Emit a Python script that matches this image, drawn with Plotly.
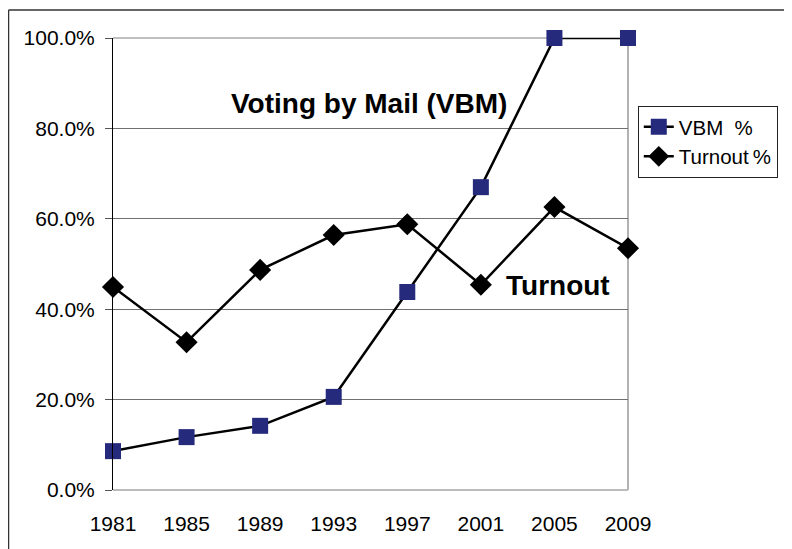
import plotly.graph_objects as go

years = [1981, 1985, 1989, 1993, 1997, 2001, 2005, 2009]
vbm_pct = [0.086, 0.117, 0.142, 0.206, 0.438, 0.670, 1.000, 1.000]
turnout_pct = [0.449, 0.327, 0.487, 0.564, 0.588, 0.454, 0.626, 0.535]
y_ticks = [0.0, 0.2, 0.4, 0.6, 0.8, 1.0]

FONT = "Liberation Sans, Arial, sans-serif"

fig = go.Figure()
fig.add_trace(go.Scatter(
    x=years, y=vbm_pct, name="VBM\u00a0 %", mode="lines+markers",
    line=dict(color="black", width=2.5),
    marker=dict(symbol="square", size=16, color="#262a7c"),
    cliponaxis=False,
))
fig.add_trace(go.Scatter(
    x=years, y=turnout_pct, name="Turnout\u2009%", mode="lines+markers",
    line=dict(color="black", width=2.5),
    marker=dict(symbol="diamond", size=17, color="black"),
    cliponaxis=False,
))

fig.update_layout(
    width=784, height=541,
    margin=dict(l=105, r=164, t=30, b=59, autoexpand=False),
    paper_bgcolor="white", plot_bgcolor="white",
    font=dict(family=FONT, color="black", size=20),
    showlegend=True,
    legend=dict(
        x=1.019, y=0.85, xanchor="left", yanchor="top",
        bordercolor="#222", borderwidth=1, bgcolor="white",
        font=dict(size=20.5, family=FONT), tracegroupgap=0,
        itemwidth=30,
    ),
    xaxis=dict(
        range=[1981, 2009], tickvals=years, ticktext=[str(y) for y in years],
        showgrid=False, zeroline=False, showline=False, ticks="",
        ticklabelstandoff=19, tickfont=dict(size=21),
    ),
    yaxis=dict(
        range=[0, 1], tickvals=y_ticks, tickformat=".1%",
        showgrid=True, gridcolor="#707070", gridwidth=1,
        zeroline=False, showline=True, linecolor="black", linewidth=1,
        ticks="outside", ticklen=7, tickcolor="#555",
        ticklabelstandoff=6, tickfont=dict(size=21),
    ),
    shapes=[
        # top gridline (lighter)
        dict(type="line", xref="paper", yref="paper", x0=0, x1=1, y0=1, y1=1,
             line=dict(color="#aaa", width=1.5), layer="below"),
        # plot area right and bottom border
        dict(type="line", xref="paper", yref="paper", x0=1, x1=1, y0=0, y1=1,
             line=dict(color="#999", width=1.5), layer="below"),
        dict(type="line", xref="paper", yref="paper", x0=0, x1=1, y0=0, y1=0,
             line=dict(color="#bbb", width=2), layer="below"),
        # outer chart frame (left and top)
        dict(type="line", xref="paper", yref="paper", x0=-0.2029, x1=-0.2029,
             y0=-0.2, y1=1.0619, line=dict(color="#333", width=1.5)),
        dict(type="line", xref="paper", yref="paper", x0=-0.2029, x1=1.4,
             y0=1.0619, y1=1.0619, line=dict(color="#333", width=1.5)),
    ],
    annotations=[
        dict(text="<b>Voting by Mail (VBM)</b>", xref="paper", yref="paper",
             x=0.497, y=0.856, xanchor="center", yanchor="middle",
             showarrow=False, font=dict(size=28, family=FONT)),
        dict(text="<b>Turnout</b>", xref="paper", yref="paper",
             x=0.865, y=0.4535, xanchor="center", yanchor="middle",
             showarrow=False, font=dict(size=28, family=FONT)),
    ],
)

fig.write_html("out.html")
